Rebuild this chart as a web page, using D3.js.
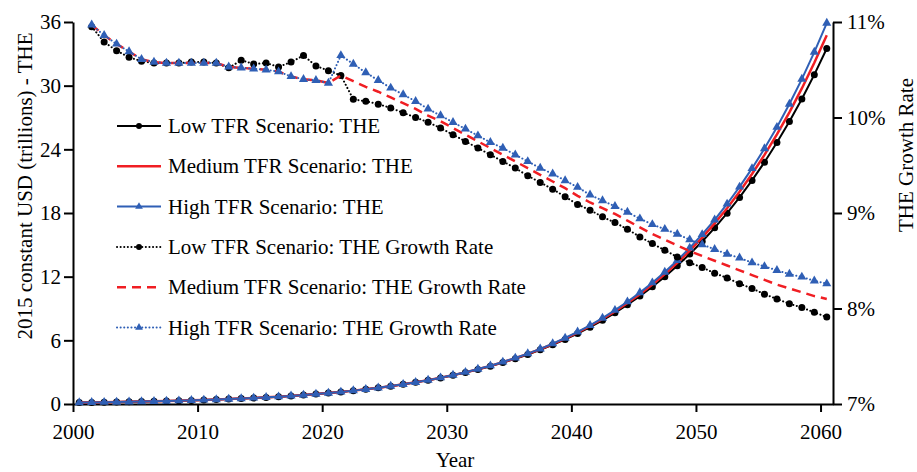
<!DOCTYPE html>
<html>
<head>
<meta charset="utf-8">
<script src="https://cdn.jsdelivr.net/npm/d3@7"></script>
<style>
  html, body { margin: 0; padding: 0; background: #fff; }
  svg { display: block; }
  text { font-family: "Liberation Serif", "Times New Roman", serif; fill: #000; }
</style>
</head>
<body>
<svg id="chart" width="917" height="472"></svg>
<script>
// Total health expenditure (THE), trillions of 2015 constant USD, 2000-2060
const theYears = d3.range(2000, 2061);
const theLow = [
  0.137, 0.152, 0.168, 0.186, 0.206, 0.228, 0.252, 0.279, 0.308, 0.341,
  0.377, 0.417, 0.461, 0.510, 0.564, 0.623, 0.689, 0.762, 0.843, 0.932,
  1.03, 1.14, 1.26, 1.39, 1.53, 1.68, 1.85, 2.04, 2.24, 2.46,
  2.70, 2.96, 3.25, 3.56, 3.90, 4.27, 4.67, 5.11, 5.58, 6.09,
  6.64, 7.24, 7.89, 8.59, 9.35, 10.17, 11.05, 12.00, 13.03, 14.13,
  15.32, 16.60, 17.98, 19.47, 21.07, 22.79, 24.64, 26.62, 28.75, 31.04,
  33.5
];
const theMedium = [
  0.138, 0.153, 0.170, 0.188, 0.208, 0.230, 0.255, 0.282, 0.311, 0.344,
  0.381, 0.421, 0.465, 0.514, 0.568, 0.627, 0.693, 0.765, 0.845, 0.933,
  1.03, 1.14, 1.26, 1.39, 1.53, 1.68, 1.86, 2.04, 2.25, 2.47,
  2.72, 2.98, 3.27, 3.59, 3.94, 4.31, 4.72, 5.16, 5.64, 6.17,
  6.73, 7.35, 8.01, 8.73, 9.51, 10.35, 11.26, 12.24, 13.30, 14.45,
  15.68, 17.02, 18.45, 20.00, 21.67, 23.47, 25.41, 27.49, 29.74, 32.16,
  34.76
];
const theHigh = [
  0.138, 0.153, 0.170, 0.188, 0.208, 0.230, 0.255, 0.282, 0.311, 0.344,
  0.381, 0.421, 0.465, 0.514, 0.568, 0.627, 0.693, 0.765, 0.845, 0.933,
  1.03, 1.14, 1.26, 1.39, 1.53, 1.69, 1.86, 2.05, 2.25, 2.48,
  2.73, 3.00, 3.29, 3.61, 3.96, 4.34, 4.75, 5.20, 5.69, 6.22,
  6.80, 7.42, 8.10, 8.84, 9.64, 10.50, 11.43, 12.44, 13.53, 14.71,
  15.98, 17.36, 18.85, 20.46, 22.20, 24.07, 26.09, 28.27, 30.62, 33.16,
  35.9
];

// Annual THE growth rate (%), 2001-2060
const rateYears = d3.range(2001, 2061);
const rateLow = [
  10.95, 10.79, 10.70, 10.63, 10.59, 10.57, 10.57, 10.57, 10.58, 10.58,
  10.57, 10.52, 10.60, 10.56, 10.57, 10.53, 10.58, 10.65, 10.54, 10.49,
  10.44, 10.19, 10.17, 10.14, 10.10, 10.05, 10.00, 9.95, 9.89, 9.82,
  9.75, 9.68, 9.61, 9.54, 9.47, 9.39, 9.32, 9.25, 9.17, 9.09,
  9.03, 8.96, 8.90, 8.83, 8.75, 8.68, 8.61, 8.54, 8.48, 8.43,
  8.37, 8.32, 8.26, 8.21, 8.15, 8.10, 8.05, 8.01, 7.96, 7.91
];
const rateMedium = [
  10.97, 10.86, 10.77, 10.69, 10.61, 10.58, 10.57, 10.57, 10.57, 10.57,
  10.57, 10.53, 10.52, 10.51, 10.50, 10.48, 10.43, 10.40, 10.39, 10.36,
  10.44, 10.38, 10.32, 10.27, 10.21, 10.15, 10.09, 10.02, 9.96, 9.89,
  9.82, 9.75, 9.68, 9.61, 9.54, 9.47, 9.40, 9.33, 9.26, 9.18,
  9.11, 9.05, 8.99, 8.92, 8.85, 8.78, 8.72, 8.66, 8.60, 8.55,
  8.50, 8.45, 8.40, 8.35, 8.30, 8.25, 8.21, 8.17, 8.13, 8.10
];
const rateHigh = [
  10.97, 10.86, 10.77, 10.69, 10.61, 10.58, 10.57, 10.57, 10.57, 10.57,
  10.57, 10.53, 10.52, 10.51, 10.50, 10.48, 10.43, 10.40, 10.39, 10.36,
  10.65, 10.56, 10.47, 10.39, 10.31, 10.24, 10.17, 10.09, 10.02, 9.95,
  9.88, 9.81, 9.74, 9.68, 9.61, 9.54, 9.47, 9.41, 9.34, 9.27,
  9.19, 9.13, 9.07, 9.01, 8.94, 8.88, 8.83, 8.78, 8.72, 8.67,
  8.62, 8.57, 8.53, 8.48, 8.44, 8.40, 8.36, 8.33, 8.29, 8.26
];

const xTicks = [2000, 2010, 2020, 2030, 2040, 2050, 2060];
const leftTicks = [0, 6, 12, 18, 24, 30, 36];
const rightTicks = [7, 8, 9, 10, 11];

const legendLabels = [
  "Low TFR Scenario: THE",
  "Medium TFR Scenario: THE",
  "High TFR Scenario: THE",
  "Low TFR Scenario: THE Growth Rate",
  "Medium TFR Scenario: THE Growth Rate",
  "High TFR Scenario: THE Growth Rate"
];

const BLACK = "#000000", RED = "#f01e23", BLUE = "#2f5fb5";
const FONT = "21px";

const svg = d3.select("#chart");
const plotL = 73, plotR = 833, plotT = 22, plotB = 404;

// Each year occupies one slot; points sit in the middle of their slot.
const x = d3.scaleLinear().domain([2000, 2061]).range([plotL, plotR]);
const px = yr => x(yr + 0.5);
const yL = d3.scaleLinear().domain([0, 36]).range([plotB, plotT]);
const yR = d3.scaleLinear().domain([7, 11]).range([plotB, plotT]);

// Axes
const axisStyle = g => {
  g.selectAll("path.domain").attr("stroke", "#000").attr("stroke-width", 2);
  g.selectAll(".tick line").attr("stroke", "#000").attr("stroke-width", 2);
  g.selectAll(".tick text").style("font-size", FONT).attr("fill", "#000")
    .style("font-family", '"Liberation Serif", "Times New Roman", serif');
};

svg.append("g").attr("transform", `translate(0,${plotB})`)
  .call(d3.axisBottom(x).tickValues(xTicks).tickFormat(d3.format("d"))
    .tickSize(8).tickSizeOuter(0).tickPadding(12))
  .call(axisStyle);

svg.append("g").attr("transform", `translate(${plotL},0)`)
  .call(d3.axisLeft(yL).tickValues(leftTicks).tickSize(9).tickSizeOuter(0).tickPadding(3))
  .call(axisStyle);

svg.append("g").attr("transform", `translate(${plotR},0)`)
  .call(d3.axisRight(yR).tickValues(rightTicks).tickFormat(d => d + "%")
    .tickSize(9).tickSizeOuter(0).tickPadding(5))
  .call(axisStyle);

// Axis titles
svg.append("text").attr("transform", "translate(25,186) rotate(-90)")
  .attr("text-anchor", "middle").attr("dominant-baseline", "central")
  .style("font-size", FONT).text("2015 constant USD (trillions) - THE");
svg.append("text").attr("transform", "translate(906,155) rotate(-90)")
  .attr("text-anchor", "middle").attr("dominant-baseline", "central")
  .style("font-size", FONT).text("THE Growth Rate");
svg.append("text").attr("x", 455).attr("y", 467)
  .attr("text-anchor", "middle").style("font-size", FONT).text("Year");

const tri = d3.symbol().type(d3.symbolTriangle).size(36);

function drawSeries(years, vals, yScale, opt) {
  const pts = years.map((yr, i) => [px(yr), yScale(vals[i])]);
  svg.append("path").datum(pts)
    .attr("d", d3.line())
    .attr("fill", "none")
    .attr("stroke", opt.color)
    .attr("stroke-width", opt.width)
    .attr("stroke-linecap", opt.cap || "butt")
    .attr("stroke-dasharray", opt.dash || null);
  if (opt.marker === "circle") {
    svg.append("g").selectAll("circle").data(pts).join("circle")
      .attr("cx", d => d[0]).attr("cy", d => d[1]).attr("r", 3.5)
      .attr("fill", opt.color);
  } else if (opt.marker === "triangle") {
    svg.append("g").selectAll("path").data(pts).join("path")
      .attr("d", tri).attr("transform", d => `translate(${d[0]},${d[1]})`)
      .attr("fill", opt.color);
  }
}

const styles = [
  { color: BLACK, width: 2, marker: "circle" },
  { color: RED, width: 2.5 },
  { color: BLUE, width: 2, marker: "triangle" },
  { color: BLACK, width: 2, dash: "0.1,3.5", cap: "round", marker: "circle" },
  { color: RED, width: 2.5, dash: "9,6" },
  { color: BLUE, width: 2, dash: "0.1,3.5", cap: "round", marker: "triangle" }
];

// Expenditure curves (left axis)
drawSeries(theYears, theLow, yL, styles[0]);
drawSeries(theYears, theMedium, yL, styles[1]);
drawSeries(theYears, theHigh, yL, styles[2]);
// Growth-rate curves (right axis)
drawSeries(rateYears, rateLow, yR, styles[3]);
drawSeries(rateYears, rateMedium, yR, styles[4]);
drawSeries(rateYears, rateHigh, yR, styles[5]);

// Legend
const lg = svg.append("g");
legendLabels.forEach((label, i) => {
  const cy = 126 + i * 40.3;
  const s = styles[i];
  lg.append("line").attr("x1", 117).attr("x2", 161).attr("y1", cy).attr("y2", cy)
    .attr("stroke", s.color).attr("stroke-width", s.width)
    .attr("stroke-linecap", s.cap || "butt")
    .attr("stroke-dasharray", s.dash || null);
  if (s.marker === "circle") {
    lg.append("circle").attr("cx", 139).attr("cy", cy).attr("r", 3).attr("fill", s.color);
  } else if (s.marker === "triangle") {
    lg.append("path").attr("d", d3.symbol().type(d3.symbolTriangle).size(26))
      .attr("transform", `translate(139,${cy})`).attr("fill", s.color);
  }
  lg.append("text").attr("x", 168).attr("y", cy).attr("dominant-baseline", "central")
    .style("font-size", FONT).text(label);
});
</script>
</body>
</html>
